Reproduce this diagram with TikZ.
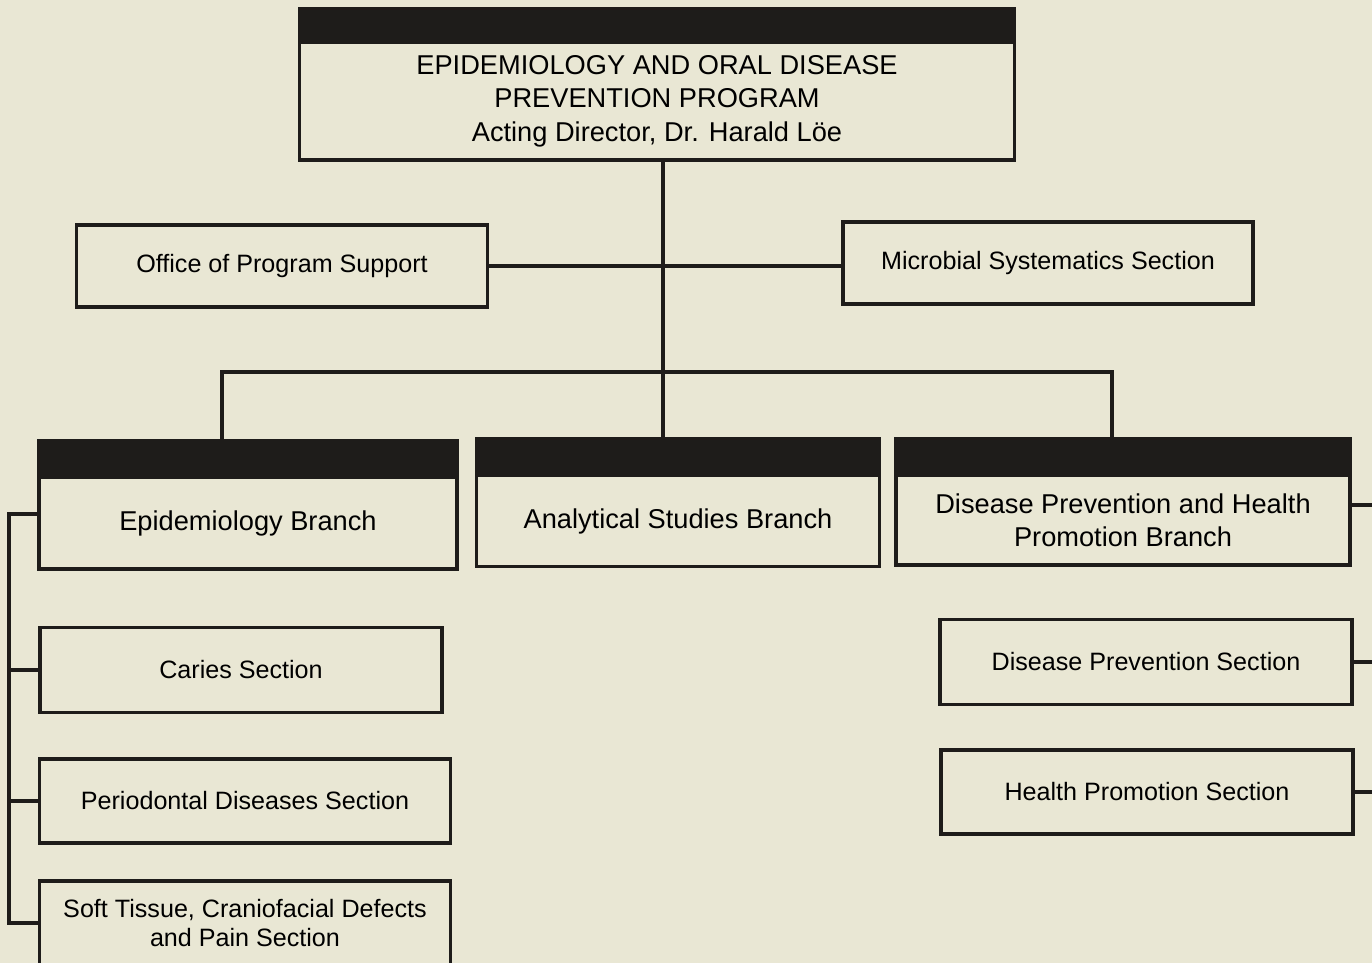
\documentclass[tikz,border=0pt]{standalone}
\usepackage{fontspec}
\setmainfont{Liberation Sans}
\usetikzlibrary{positioning}
\definecolor{paper}{RGB}{233,231,212}
\definecolor{ink}{RGB}{30,28,26}

\begin{document}
\begin{tikzpicture}[
  x=0.02cm, y=-0.02cm,
  box/.style={rectangle, draw=ink, line width=2pt, fill=paper, align=center, inner sep=0pt, font=\fontsize{14.3}{17}\selectfont},
  big/.style={box, font=\fontsize{15.5}{19}\selectfont},
  hd/.style={rectangle, draw=ink, fill=ink, line width=2pt, inner sep=0pt, minimum height=0.66cm},
  ln/.style={draw=ink, line width=2pt}
  ]
  \fill[paper] (0,0) rectangle (1372,963);
  \useasboundingbox (0,0) rectangle (1372,963);

  % program head
  \node[big, minimum width=14.3cm, minimum height=2.36cm] (top) at (657,101)
    {EPIDEMIOLOGY AND ORAL DISEASE\\PREVENTION PROGRAM\\Acting Director, Dr. Harald Löe};
  \node[hd, minimum width=14.3cm, minimum height=0.6cm, above=0pt of top] (tophd) {};

  \node[box, minimum width=8.22cm, minimum height=1.64cm] (office) at (282,266) {Office of Program Support};
  \node[box, minimum width=8.2cm, minimum height=1.64cm] (micro) at (1048,263) {Microbial Systematics Section};

  % branches
  \node[big, minimum width=8.36cm, minimum height=1.84cm] (epi) at (248,523) {Epidemiology Branch};
  \node[hd, minimum width=8.36cm, above=0pt of epi] (epihd) {};
  \node[big, minimum width=8.06cm, minimum height=1.82cm] (anal) at (678,521) {Analytical Studies Branch};
  \node[hd, minimum width=8.06cm, above=0pt of anal] (analhd) {};
  \node[big, minimum width=9.08cm, minimum height=1.8cm] (dphp) at (1123,520)
    {Disease Prevention and Health\\Promotion Branch};
  \node[hd, minimum width=9.08cm, above=0pt of dphp] (dphphd) {};

  % sections
  \node[box, minimum width=8.04cm, minimum height=1.7cm] (caries) at (241,670) {Caries Section};
  \node[box, minimum width=8.22cm, minimum height=1.68cm] (perio) at (245,801) {Periodontal Diseases Section};
  \node[box, minimum width=8.22cm, minimum height=1.68cm] (soft) at (245,923)
    {Soft Tissue, Craniofacial Defects\\and Pain Section};
  \node[box, minimum width=8.24cm, minimum height=1.7cm] (dps) at (1146,662) {Disease Prevention Section};
  \node[box, minimum width=8.24cm, minimum height=1.68cm] (hps) at (1147,792) {Health Promotion Section};

  \coordinate (trunk) at (663,372);
  \coordinate (lbar) at (222,372);
  \coordinate (rbar) at (1112,372);
  \coordinate (lsp) at (9,0);
  \coordinate (rsp) at (1372,0);

  \draw[ln] (trunk |- top.south) -- (trunk |- analhd.north);
  \draw[ln] (office.east) -- (office.east -| micro.west);
  \draw[ln] (lbar |- epihd.north) -- (lbar) -- (rbar) -- (rbar |- dphphd.north);

  \draw[ln] ([yshift=0.18cm]epi.west) -- ([yshift=0.18cm]lsp |- epi.west) -- (lsp |- soft.west) -- (soft.west);
  \foreach \n in {caries, perio}
    \draw[ln] (lsp |- \n.west) -- (\n.west);
  \draw[ln] ([yshift=0.3cm]dphp.east) -- ([yshift=0.3cm]rsp |- dphp.east);
  \foreach \n in {dps, hps}
    \draw[ln] (\n.east) -- (rsp |- \n.east);
\end{tikzpicture}
\end{document}
